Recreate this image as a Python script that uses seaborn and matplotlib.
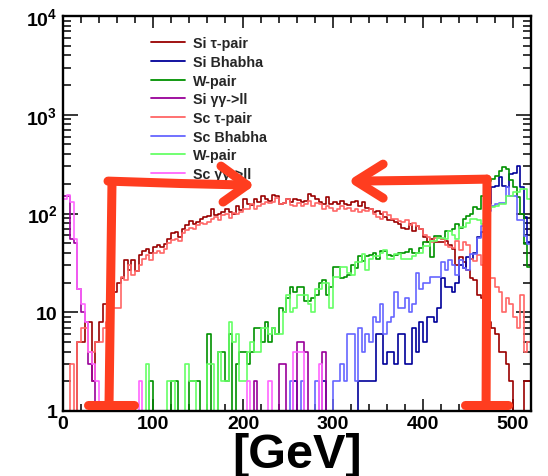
import numpy as np
import pandas as pd
import matplotlib
matplotlib.use("Agg")
import matplotlib.pyplot as plt
import seaborn as sns
from matplotlib.lines import Line2D
from matplotlib.ticker import FixedLocator, FixedFormatter, LogLocator, MultipleLocator, NullFormatter

# ---- binning -------------------------------------------------------------
BIN_WIDTH = 4      # GeV
X_MAX = 520        # GeV
Y_MIN, Y_MAX = 1, 1e4

# ---- entries per 4 GeV bin (130 bins, 0-520 GeV) -------------------------
si_tau = [
    0, 0, 0, 0, 5, 5, 8, 8, 2, 5,
    8, 12, 12, 15, 16, 20, 22, 34, 27, 34,
    26, 38, 42, 44, 40, 46, 48, 46, 49, 55,
    63, 65, 58, 70, 76, 84, 78, 82, 88, 92,
    95, 110, 96, 100, 103, 110, 104, 100, 118, 108,
    140, 125, 122, 140, 130, 150, 140, 135, 155, 150,
    126, 128, 140, 132, 140, 138, 132, 135, 156, 150,
    140, 132, 126, 147, 125, 130, 126, 135, 125, 122,
    130, 134, 120, 130, 115, 110, 104, 106, 98, 92,
    85, 86, 82, 78, 72, 70, 78, 66, 75, 70,
    58, 51, 55, 52, 52, 51, 53, 48, 44, 30,
    36, 32, 27, 22, 21, 15, 14, 10, 8, 7,
    6, 4, 4, 3, 2, 1, 0, 0, 2, 2,
]

si_bhabha = [
    0, 0, 0, 0, 0, 0, 0, 0, 0, 0,
    0, 0, 0, 0, 0, 0, 0, 0, 0, 0,
    0, 0, 0, 0, 0, 0, 0, 0, 0, 0,
    0, 0, 0, 0, 0, 0, 0, 0, 0, 0,
    0, 0, 0, 0, 0, 0, 0, 0, 0, 0,
    0, 0, 0, 0, 0, 0, 0, 0, 0, 0,
    0, 0, 0, 0, 2, 0, 0, 0, 0, 0,
    0, 0, 2, 0, 0, 0, 0, 0, 0, 0,
    0, 0, 2, 2, 2, 2, 2, 6, 6, 3,
    4, 4, 3, 6, 6, 3, 3, 7, 4, 8,
    5, 9, 9, 8, 11, 22, 18, 18, 16, 20,
    30, 28, 36, 35, 40, 58, 65, 75, 125, 185,
    190, 235, 190, 185, 250, 260, 300, 185, 92, 52,
]

si_wpair = [
    0, 0, 0, 0, 0, 0, 0, 0, 0, 0,
    0, 0, 0, 0, 0, 0, 0, 0, 0, 0,
    0, 0, 0, 0, 2, 0, 0, 0, 0, 0,
    2, 2, 0, 0, 0, 2, 2, 2, 0, 0,
    6, 0, 0, 4, 4, 2, 6, 0, 3, 4,
    4, 3, 4, 7, 7, 5, 8, 5, 7, 6,
    11, 10, 14, 18, 16, 18, 18, 13, 13, 14,
    15, 20, 21, 15, 18, 29, 29, 22, 23, 24,
    30, 28, 37, 33, 37, 38, 40, 35, 42, 42,
    38, 37, 38, 40, 40, 41, 44, 40, 40, 45,
    51, 51, 36, 59, 59, 55, 66, 66, 70, 78,
    72, 88, 95, 100, 116, 110, 150, 207, 215, 225,
    240, 270, 295, 280, 220, 185, 147, 98, 49, 29,
]

si_gg = [
    150, 150, 55, 50, 17, 10, 8, 3, 2, 0,
    0, 0, 0, 0, 0, 0, 0, 0, 0, 0,
    0, 0, 0, 0, 0, 0, 0, 0, 0, 0,
    0, 0, 0, 0, 0, 0, 0, 0, 0, 0,
    0, 0, 0, 0, 0, 0, 0, 0, 0, 0,
    0, 0, 0, 2, 0, 0, 0, 0, 0, 0,
    3, 3, 0, 0, 0, 5, 5, 4, 0, 0,
    0, 0, 4, 0, 0, 0, 0, 0, 0, 0,
    0, 0, 0, 0, 0, 0, 0, 0, 0, 0,
    0, 0, 0, 0, 0, 0, 0, 0, 0, 0,
    0, 0, 0, 0, 0, 0, 0, 0, 0, 0,
    0, 0, 0, 0, 0, 0, 0, 0, 0, 0,
    0, 0, 0, 0, 0, 0, 0, 0, 0, 0,
]

sc_tau = [
    0, 0, 3, 0, 5, 7, 7, 4, 4, 5,
    5, 7, 8, 9, 11, 11, 23, 21, 30, 24,
    26, 30, 35, 38, 34, 40, 42, 40, 44, 50,
    54, 55, 53, 64, 68, 72, 70, 76, 80, 78,
    82, 88, 92, 86, 96, 98, 90, 102, 100, 104,
    110, 112, 125, 112, 120, 125, 130, 128, 130, 145,
    125, 128, 140, 122, 118, 128, 120, 126, 134, 120,
    128, 125, 110, 118, 115, 106, 112, 118, 110, 115,
    105, 112, 103, 108, 106, 110, 100, 92, 88, 104,
    96, 88, 88, 84, 82, 86, 76, 80, 74, 70,
    60, 58, 52, 56, 56, 55, 48, 46, 45, 53,
    43, 51, 48, 35, 33, 38, 30, 30, 22, 22,
    18, 16, 10, 14, 12, 9, 7, 15, 4, 5,
]

sc_bhabha = [
    0, 0, 0, 0, 0, 0, 0, 0, 0, 0,
    0, 0, 0, 0, 0, 0, 0, 0, 0, 0,
    0, 0, 0, 0, 0, 0, 0, 0, 0, 0,
    0, 0, 0, 0, 0, 0, 0, 0, 0, 0,
    0, 0, 0, 0, 0, 0, 0, 0, 0, 0,
    0, 0, 0, 0, 0, 0, 0, 0, 0, 0,
    0, 0, 0, 2, 0, 0, 2, 0, 0, 0,
    2, 0, 0, 0, 0, 2, 2, 3, 2, 6,
    6, 2, 7, 4, 6, 5, 9, 8, 12, 6,
    8, 9, 16, 11, 11, 14, 10, 12, 25, 17,
    20, 20, 23, 23, 23, 32, 27, 34, 30, 24,
    34, 28, 27, 39, 39, 57, 75, 106, 106, 120,
    125, 128, 128, 185, 150, 150, 85, 85, 59, 49,
]

sc_wpair = [
    0, 0, 0, 0, 0, 0, 0, 0, 0, 0,
    0, 0, 0, 0, 0, 0, 0, 0, 0, 0,
    0, 0, 0, 3, 0, 0, 0, 0, 0, 2,
    2, 0, 0, 0, 3, 2, 2, 0, 0, 0,
    3, 3, 0, 4, 2, 2, 8, 5, 6, 2,
    2, 4, 5, 4, 4, 7, 7, 6, 7, 6,
    6, 10, 15, 10, 11, 15, 15, 15, 12, 10,
    17, 17, 20, 20, 11, 23, 23, 29, 29, 25,
    24, 32, 32, 39, 27, 35, 37, 37, 40, 43,
    35, 35, 39, 39, 35, 35, 35, 37, 40, 40,
    47, 47, 53, 53, 57, 57, 55, 66, 60, 55,
    73, 73, 80, 88, 88, 85, 78, 80, 110, 116,
    120, 125, 125, 150, 150, 165, 165, 177, 177, 140,
]

sc_gg = [
    140, 155, 130, 55, 17, 12, 8, 4, 3, 2,
    0, 0, 0, 0, 0, 0, 0, 0, 0, 0,
    0, 2, 0, 0, 0, 0, 0, 0, 0, 0,
    0, 0, 0, 0, 0, 0, 0, 0, 0, 0,
    0, 0, 0, 0, 0, 0, 0, 0, 0, 0,
    0, 2, 0, 0, 0, 0, 0, 2, 0, 0,
    0, 0, 0, 0, 4, 4, 4, 0, 0, 0,
    0, 3, 0, 0, 0, 0, 0, 0, 0, 0,
    0, 0, 0, 0, 0, 0, 0, 0, 0, 0,
    0, 0, 0, 0, 0, 0, 0, 0, 0, 0,
    0, 0, 0, 0, 0, 0, 0, 0, 0, 0,
    0, 0, 0, 0, 0, 0, 0, 0, 0, 0,
    0, 0, 0, 0, 0, 0, 0, 0, 0, 0,
]

labels = ["Si \u03c4-pair", "Si Bhabha", "W-pair", "Si \u03b3\u03b3->ll",
          "Sc \u03c4-pair", "Sc Bhabha", "W-pair", "Sc \u03b3\u03b3->ll"]
counts = [si_tau, si_bhabha, si_wpair, si_gg, sc_tau, sc_bhabha, sc_wpair, sc_gg]
colors = ["#990000", "#000099", "#009100", "#990099",
          "#ff6666", "#6666ff", "#66ff66", "#ff66ff"]

# ---- style ---------------------------------------------------------------
sns.set_theme(style="ticks")
plt.rcParams["font.family"] = ["Liberation Sans", "DejaVu Sans"]
plt.rcParams["font.weight"] = "bold"
plt.rcParams["mathtext.fontset"] = "custom"
plt.rcParams["mathtext.rm"] = "Liberation Sans:bold"
plt.rcParams["mathtext.it"] = "Liberation Sans:bold"
plt.rcParams["mathtext.bf"] = "Liberation Sans:bold"

fig = plt.figure(figsize=(5.48, 4.77), dpi=100)
ax = fig.add_axes([63 / 548, 65 / 477, 468 / 548, 395 / 477])

edges = [float(e) for e in np.arange(0, X_MAX + BIN_WIDTH, BIN_WIDTH)]
centers = np.arange(BIN_WIDTH / 2, X_MAX, BIN_WIDTH)

handles = []
for lab, cnt, col in zip(labels, counts, colors):
    # empty bins sit on the lower frame edge, as in a ROOT log plot
    frame = pd.DataFrame({"energy": centers,
                          "entries": np.maximum(np.asarray(cnt, dtype=float), Y_MIN)})
    sns.histplot(data=frame, x="energy", weights="entries", bins=edges,
                 element="step", fill=False, color=col, linewidth=1.2, ax=ax)
    handles.append(Line2D([], [], color=col, linewidth=1.3))

ax.set_yscale("log")
ax.set_xlim(0, X_MAX)
ax.set_ylim(Y_MIN, Y_MAX)
ax.set_xlabel("")
ax.set_ylabel("")

# ---- axes, ticks ---------------------------------------------------------
for sp in ax.spines.values():
    sp.set_visible(True)
    sp.set_linewidth(1.7)
    sp.set_color("black")

ax.xaxis.set_major_locator(MultipleLocator(100))
ax.xaxis.set_minor_locator(MultipleLocator(20))
ax.yaxis.set_major_locator(FixedLocator([1, 10, 100, 1000, 10000]))
ax.yaxis.set_major_formatter(FixedFormatter(["1", "10", r"$10^{2}$", r"$10^{3}$", r"$10^{4}$"]))
ax.yaxis.set_minor_locator(LogLocator(base=10, subs=np.arange(2, 10)))
ax.yaxis.set_minor_formatter(NullFormatter())

ax.tick_params(which="both", direction="in", top=True, right=True,
               width=1.1, color="black", labelcolor="black", labelsize=14)
ax.tick_params(axis="x", which="major", length=8.5, pad=3)
ax.tick_params(axis="x", which="minor", length=5)
ax.tick_params(axis="y", which="major", length=10.5, pad=4)
ax.tick_params(axis="y", which="minor", length=5.5)
for t in ax.get_xticklabels() + ax.get_yticklabels():
    t.set_fontweight("bold")

fig.text(0.542, 0.046, "[GeV]", fontsize=35, fontweight="bold",
         ha="center", va="center", color="black")

# ---- legend --------------------------------------------------------------
leg = ax.legend(handles, labels, loc="upper left", bbox_to_anchor=(0.188, 0.949),
                frameon=False, fontsize=10.3, handlelength=2.4, handletextpad=0.55,
                labelspacing=0.33, borderpad=0, borderaxespad=0)
for t in leg.get_texts():
    t.set_fontweight("bold")

# ---- hand-drawn selection brackets ---------------------------------------
pen = dict(color="#ff3d1f", linewidth=6.5, solid_capstyle="round",
           solid_joinstyle="round", transform=ax.transAxes, clip_on=False, zorder=20)

# left bracket with arrow pointing right
ax.plot([0.0534, 0.1517], [0.0152, 0.0152], **pen)
ax.plot([0.0983, 0.1047], [0.0152, 0.580], **pen)
ax.plot([0.0962, 0.250, 0.393], [0.582, 0.576, 0.572], **pen)
ax.plot([0.3376, 0.393, 0.342], [0.620, 0.572, 0.529], **pen)

# right bracket with arrow pointing left
ax.plot([0.859, 0.950], [0.0152, 0.0152], **pen)
ax.plot([0.904, 0.906], [0.0152, 0.587], **pen)
ax.plot([0.906, 0.760, 0.628], [0.587, 0.584, 0.582], **pen)
ax.plot([0.684, 0.626, 0.684], [0.625, 0.582, 0.539], **pen)

fig.savefig("out.png", dpi=100)
